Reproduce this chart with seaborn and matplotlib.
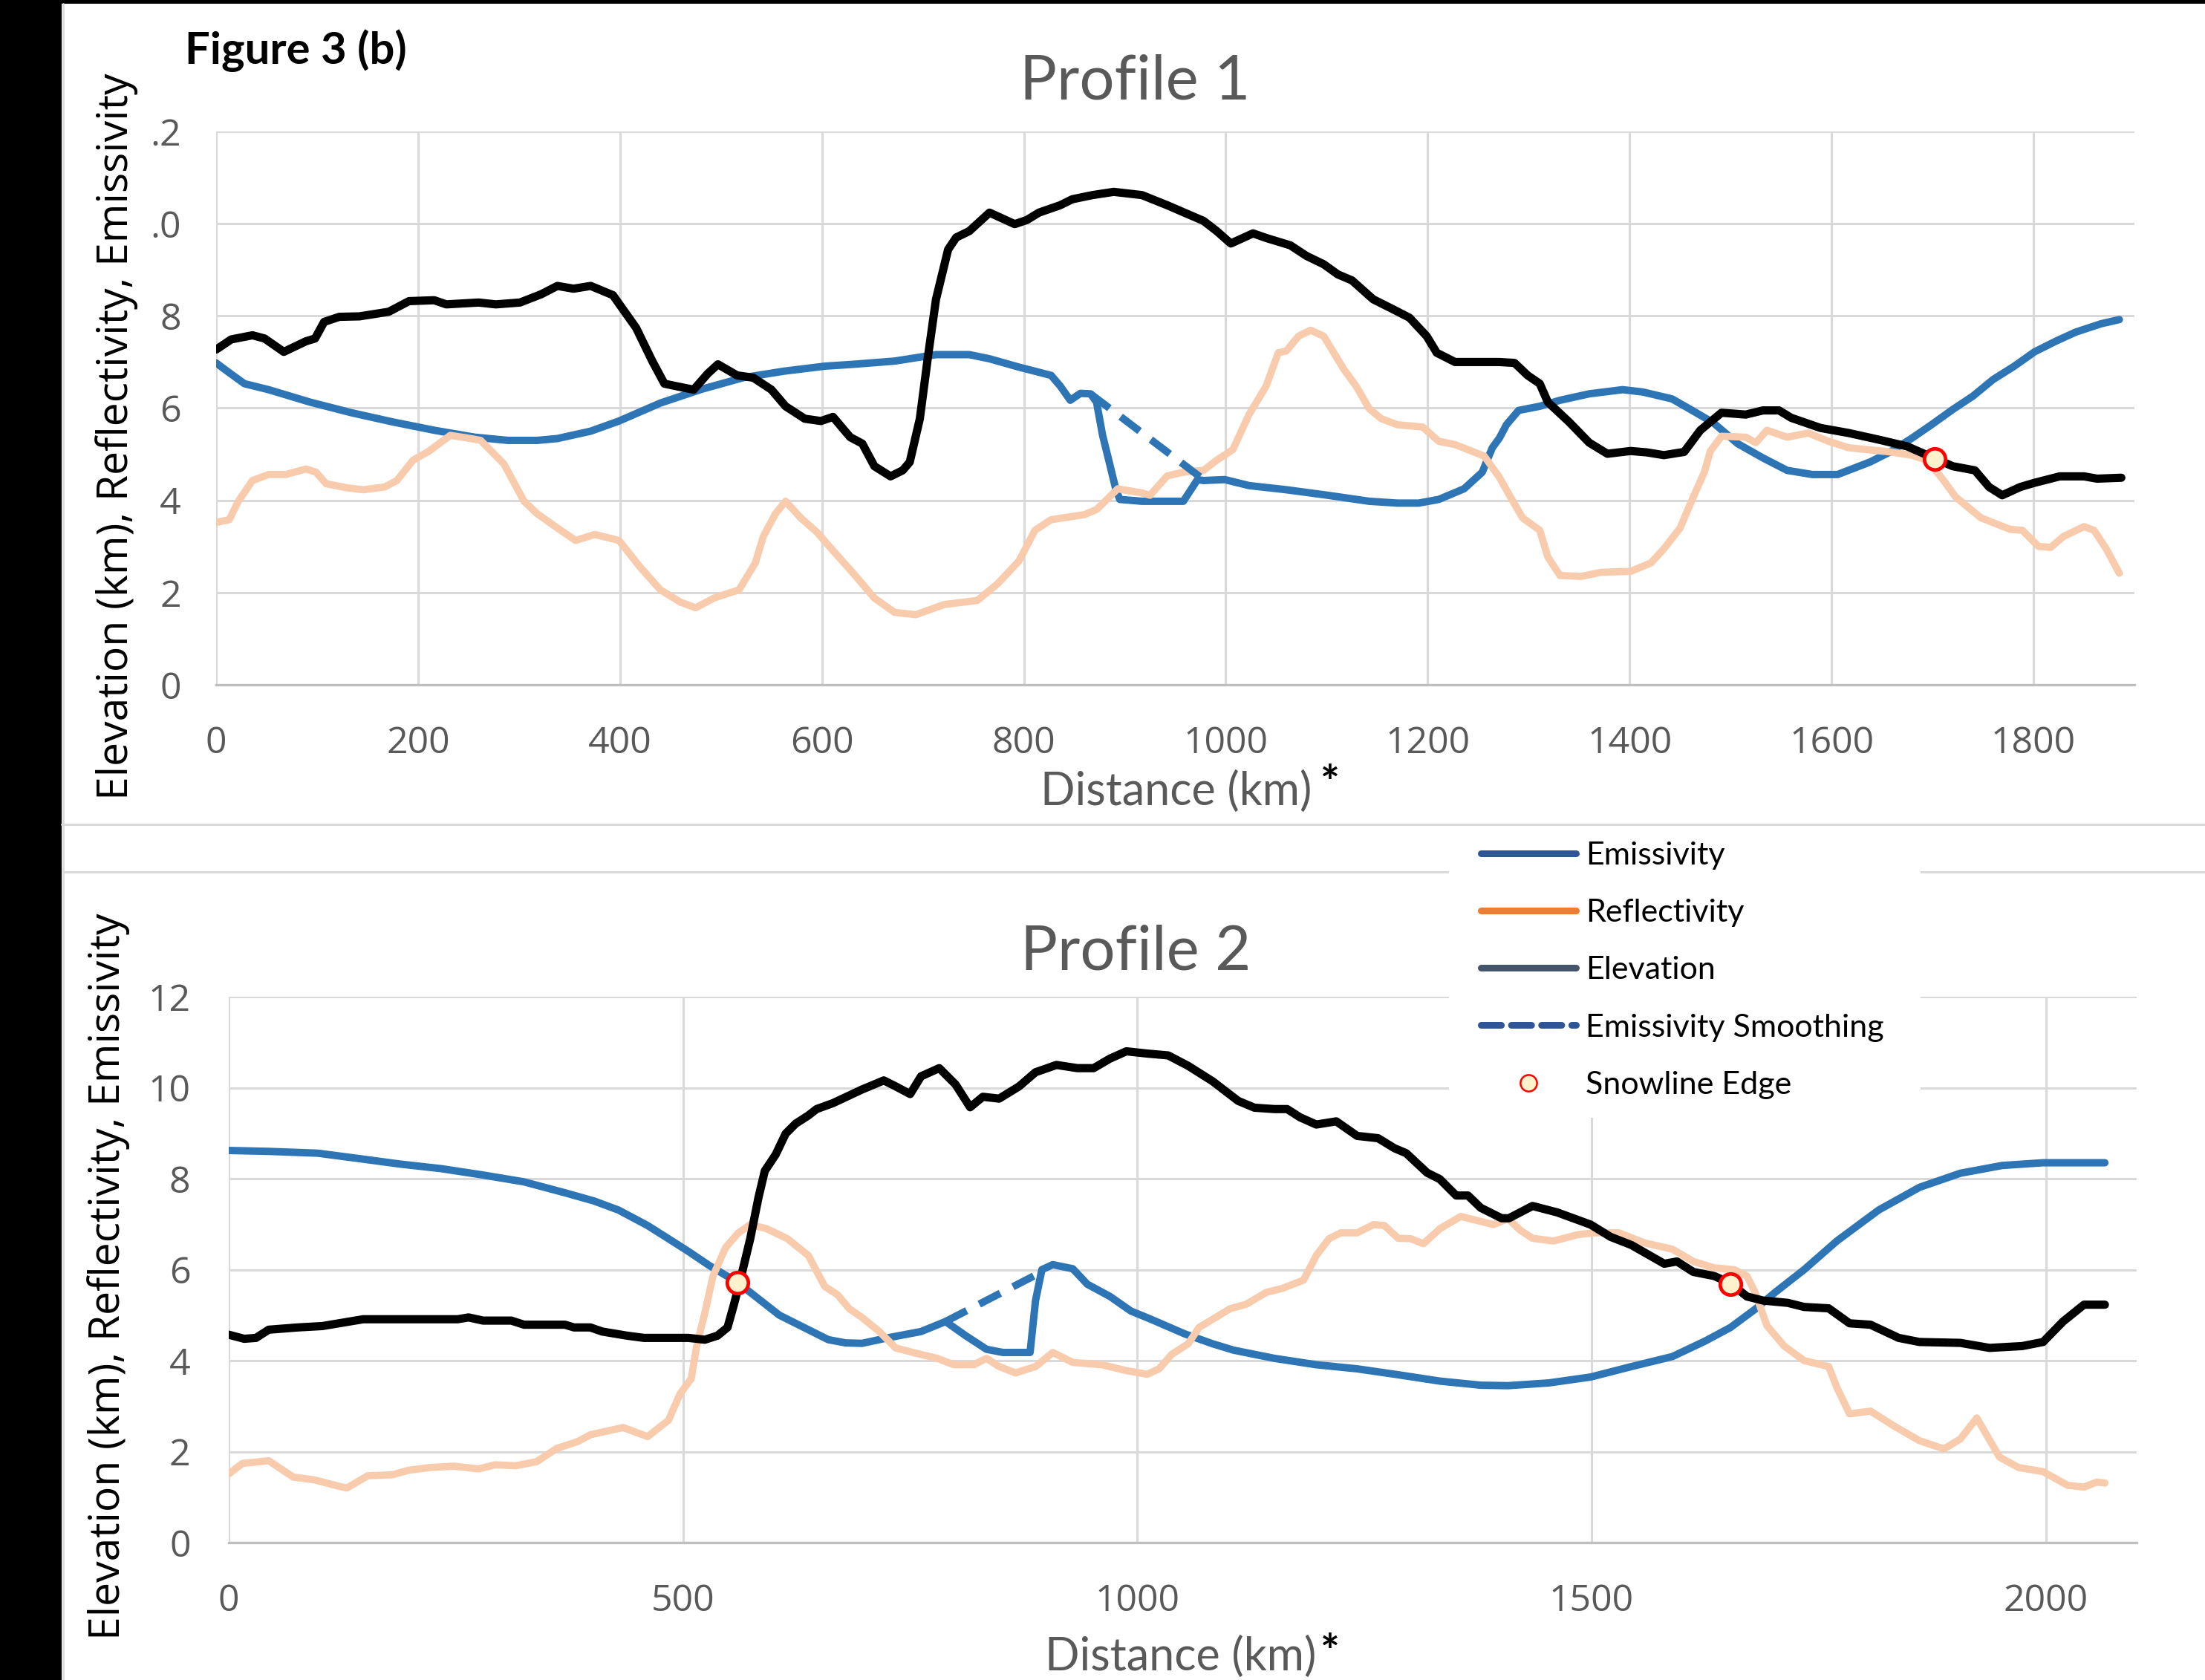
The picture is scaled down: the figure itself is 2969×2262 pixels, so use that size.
import matplotlib
matplotlib.use("Agg")
import matplotlib.pyplot as plt
import seaborn as sns
import pandas as pd
from matplotlib.lines import Line2D
from matplotlib.patches import Rectangle

# ---------------- DATA ----------------
# Profile 1
p1_elev_x = [0, 15, 36, 48, 67, 89, 98, 107, 122, 142, 171, 191, 216, 228, 260, 277, 301, 322, 338, 354, 371, 393,
             416, 432, 444, 457, 473, 487, 497, 516, 532, 550, 564, 583, 599, 611, 628, 640, 652, 668, 680, 687, 697,
             705, 713, 725, 733, 746, 766, 791, 803, 815, 836, 848, 868, 889, 917, 942, 978, 991, 1005, 1027, 1040,
             1064, 1080, 1097, 1111, 1125, 1146, 1166, 1182, 1199, 1209, 1227, 1252, 1271, 1286, 1299, 1311, 1319,
             1340, 1360, 1378, 1401, 1417, 1434, 1454, 1470, 1491, 1515, 1532, 1548, 1560, 1589, 1617, 1646, 1675,
             1701, 1720, 1742, 1756, 1769, 1787, 1801, 1826, 1850, 1863, 1887]
p1_elev_y = [7.27, 7.49, 7.58, 7.51, 7.22, 7.45, 7.51, 7.87, 7.98, 7.99, 8.09, 8.32, 8.34, 8.25, 8.29, 8.25, 8.29,
             8.47, 8.65, 8.59, 8.65, 8.45, 7.74, 7.02, 6.53, 6.47, 6.40, 6.75, 6.95, 6.71, 6.66, 6.40, 6.04, 5.77,
             5.72, 5.81, 5.37, 5.23, 4.74, 4.52, 4.65, 4.83, 5.77, 7.11, 8.36, 9.44, 9.70, 9.84, 10.24, 9.99, 10.08,
             10.24, 10.40, 10.53, 10.62, 10.69, 10.62, 10.40, 10.06, 9.84, 9.57, 9.79, 9.69, 9.53, 9.30, 9.12, 8.90,
             8.77, 8.36, 8.14, 7.96, 7.56, 7.20, 7.00, 7.00, 7.00, 6.98, 6.71, 6.53, 6.13, 5.70, 5.25, 5.01, 5.07,
             5.04, 4.98, 5.05, 5.52, 5.90, 5.86, 5.95, 5.95, 5.79, 5.57, 5.46, 5.32, 5.17, 4.92, 4.74, 4.65, 4.29,
             4.11, 4.29, 4.38, 4.52, 4.52, 4.47, 4.49]

p1_emis_x = [0, 11, 28, 52, 93, 134, 175, 216, 256, 289, 318, 338, 371, 399, 440, 481, 522, 562, 603, 631, 672, 713,
             746, 766, 795, 827, 836, 846, 856, 866, 872, 878, 884, 891, 895, 917, 958, 972, 978, 999, 1023, 1060,
             1101, 1142, 1170, 1191, 1211, 1236, 1254, 1264, 1271, 1278, 1290, 1311, 1331, 1360, 1393, 1413, 1442,
             1462, 1483, 1507, 1532, 1556, 1581, 1606, 1638, 1658, 1679, 1699, 1720, 1740, 1760, 1781, 1801, 1822,
             1842, 1867, 1885]
p1_emis_y = [6.98, 6.80, 6.53, 6.40, 6.13, 5.90, 5.70, 5.52, 5.37, 5.30, 5.30, 5.34, 5.50, 5.72, 6.11, 6.41, 6.66,
             6.80, 6.91, 6.95, 7.02, 7.16, 7.16, 7.07, 6.89, 6.71, 6.48, 6.17, 6.32, 6.31, 6.13, 5.41, 4.88, 4.25,
             4.02, 3.98, 3.98, 4.45, 4.43, 4.45, 4.32, 4.23, 4.11, 3.98, 3.94, 3.94, 4.02, 4.25, 4.61, 5.14, 5.35,
             5.64, 5.95, 6.04, 6.17, 6.31, 6.40, 6.35, 6.20, 5.95, 5.68, 5.23, 4.92, 4.65, 4.56, 4.56, 4.83, 5.05,
             5.34, 5.64, 5.97, 6.26, 6.62, 6.91, 7.22, 7.45, 7.65, 7.83, 7.92]

p1_smooth_x = [866, 978]
p1_smooth_y = [6.31, 4.45]

p1_refl_x = [0, 13, 22, 36, 52, 69, 89, 99, 109, 130, 146, 167, 179, 195, 211, 232, 252, 262, 285, 305, 318, 338,
             356, 375, 399, 420, 440, 460, 475, 493, 518, 534, 542, 554, 564, 579, 595, 611, 631, 652, 672, 693,
             721, 754, 774, 795, 811, 827, 860, 872, 893, 917, 925, 942, 958, 978, 991, 1007, 1023, 1040, 1052,
             1060, 1072, 1084, 1097, 1117, 1129, 1142, 1154, 1170, 1195, 1211, 1227, 1256, 1271, 1282, 1294, 1311,
             1319, 1331, 1352, 1372, 1401, 1421, 1434, 1450, 1462, 1474, 1480, 1491, 1515, 1525, 1536, 1556, 1577,
             1597, 1617, 1658, 1679, 1695, 1711, 1723, 1748, 1777, 1789, 1805, 1817, 1830, 1850, 1860, 1872, 1885]
p1_refl_y = [3.52, 3.58, 3.98, 4.43, 4.56, 4.56, 4.68, 4.61, 4.36, 4.27, 4.23, 4.29, 4.43, 4.87, 5.07, 5.41, 5.34,
             5.30, 4.79, 3.98, 3.71, 3.40, 3.13, 3.26, 3.13, 2.55, 2.06, 1.79, 1.67, 1.88, 2.06, 2.64, 3.22, 3.71,
             3.98, 3.62, 3.31, 2.91, 2.42, 1.88, 1.57, 1.52, 1.74, 1.83, 2.19, 2.68, 3.35, 3.58, 3.69, 3.80, 4.25,
             4.16, 4.11, 4.53, 4.61, 4.65, 4.87, 5.10, 5.86, 6.48, 7.20, 7.24, 7.56, 7.69, 7.56, 6.84, 6.48, 5.99,
             5.77, 5.64, 5.59, 5.28, 5.21, 4.96, 4.50, 4.07, 3.62, 3.35, 2.77, 2.37, 2.35, 2.44, 2.46, 2.64, 2.95,
             3.40, 4.02, 4.61, 5.07, 5.39, 5.37, 5.25, 5.52, 5.37, 5.46, 5.28, 5.14, 5.05, 4.98, 4.87, 4.43, 4.07,
             3.62, 3.37, 3.35, 3.00, 2.98, 3.22, 3.43, 3.35, 2.95, 2.42]

p1_snow_x = [1702]
p1_snow_y = [4.89]

# Profile 2
p2_elev_x = [0, 17, 30, 44, 76, 103, 121, 148, 189, 252, 264, 280, 311, 325, 370, 380, 398, 411, 438, 457, 506, 524,
             538, 549, 556, 563, 574, 583, 590, 602, 613, 624, 638, 647, 665, 697, 721, 734, 750, 762, 782, 800, 816,
             830, 848, 870, 888, 911, 934, 952, 970, 988, 1011, 1034, 1056, 1083, 1111, 1129, 1151, 1165, 1179,
             1197, 1219, 1242, 1265, 1283, 1296, 1319, 1333, 1351, 1364, 1378, 1401, 1409, 1435, 1462, 1499, 1521,
             1544, 1580, 1594, 1612, 1635, 1653, 1671, 1689, 1716, 1734, 1761, 1784, 1807, 1838, 1861, 1906, 1938,
             1974, 1997, 2019, 2042, 2065]
p2_elev_y = [4.57, 4.48, 4.50, 4.68, 4.73, 4.76, 4.82, 4.91, 4.91, 4.91, 4.95, 4.88, 4.88, 4.79, 4.79, 4.73, 4.73,
             4.64, 4.55, 4.50, 4.50, 4.46, 4.55, 4.73, 5.23, 5.77, 6.68, 7.58, 8.17, 8.53, 8.99, 9.21, 9.39, 9.53,
             9.66, 9.96, 10.16, 10.03, 9.86, 10.25, 10.43, 10.07, 9.57, 9.80, 9.76, 10.03, 10.34, 10.50, 10.43,
             10.43, 10.64, 10.80, 10.75, 10.71, 10.48, 10.14, 9.71, 9.56, 9.53, 9.53, 9.35, 9.19, 9.26, 8.94, 8.89,
             8.67, 8.56, 8.13, 7.99, 7.63, 7.63, 7.36, 7.13, 7.13, 7.40, 7.26, 6.99, 6.72, 6.54, 6.13, 6.18, 5.95,
             5.86, 5.70, 5.41, 5.32, 5.27, 5.18, 5.15, 4.82, 4.79, 4.50, 4.41, 4.39, 4.28, 4.32, 4.41, 4.86, 5.23,
             5.23]

p2_emis_x = [0, 44, 98, 144, 189, 234, 280, 325, 370, 402, 429, 461, 484, 506, 529, 560, 583, 606, 633, 660, 679, 697,
             725, 762, 789, 811, 834, 852, 882, 888, 895, 907, 929, 945, 970, 993, 1015, 1052, 1083, 1106, 1151, 1197,
             1242, 1287, 1333, 1378, 1408, 1453, 1499, 1544, 1589, 1625, 1653, 1680, 1702, 1734, 1770, 1816, 1861,
             1906, 1952, 1997, 2065]
p2_emis_y = [8.62, 8.60, 8.56, 8.44, 8.32, 8.22, 8.08, 7.93, 7.69, 7.51, 7.31, 6.97, 6.68, 6.40, 6.09, 5.72, 5.36,
             5.00, 4.73, 4.46, 4.39, 4.38, 4.50, 4.64, 4.86, 4.55, 4.25, 4.18, 4.18, 5.32, 6.00, 6.11, 6.02, 5.68,
             5.41, 5.09, 4.91, 4.59, 4.37, 4.23, 4.05, 3.91, 3.82, 3.69, 3.55, 3.46, 3.45, 3.51, 3.64, 3.87, 4.09,
             4.43, 4.73, 5.13, 5.50, 6.00, 6.63, 7.31, 7.81, 8.12, 8.29, 8.35, 8.35]

p2_smooth_x = [789, 886]
p2_smooth_y = [4.86, 5.86]

p2_refl_x = [0, 15, 30, 44, 71, 94, 121, 130, 153, 180, 198, 221, 248, 275, 293, 316, 339, 361, 384, 398, 434, 461,
             484, 497, 509, 515, 524, 533, 547, 561, 574, 592, 615, 638, 656, 670, 683, 697, 716, 734, 757, 780, 798,
             820, 834, 848, 866, 888, 907, 929, 961, 988, 1011, 1024, 1038, 1056, 1068, 1083, 1102, 1120, 1142, 1160,
             1183, 1197, 1211, 1224, 1242, 1260, 1272, 1287, 1301, 1315, 1333, 1356, 1374, 1392, 1408, 1422, 1435,
             1458, 1485, 1503, 1530, 1558, 1589, 1612, 1635, 1657, 1671, 1680, 1693, 1712, 1734, 1761, 1770, 1784,
             1807, 1834, 1861, 1888, 1906, 1924, 1949, 1970, 1997, 2024, 2042, 2056, 2065]
p2_refl_y = [1.51, 1.74, 1.77, 1.80, 1.44, 1.38, 1.24, 1.20, 1.47, 1.49, 1.59, 1.65, 1.68, 1.62, 1.71, 1.69, 1.78,
             2.07, 2.22, 2.37, 2.53, 2.33, 2.69, 3.28, 3.60, 4.32, 5.05, 5.86, 6.49, 6.81, 6.99, 6.90, 6.68, 6.31,
             5.63, 5.45, 5.14, 4.95, 4.64, 4.28, 4.16, 4.05, 3.91, 3.91, 4.05, 3.87, 3.73, 3.87, 4.18, 3.96, 3.91,
             3.78, 3.70, 3.82, 4.14, 4.37, 4.73, 4.91, 5.14, 5.24, 5.50, 5.59, 5.77, 6.31, 6.68, 6.81, 6.81, 6.99,
             6.97, 6.69, 6.68, 6.57, 6.90, 7.17, 7.08, 6.99, 7.12, 6.86, 6.69, 6.63, 6.77, 6.81, 6.81, 6.59, 6.45,
             6.18, 6.04, 6.00, 5.86, 5.50, 4.77, 4.32, 4.00, 3.87, 3.41, 2.83, 2.89, 2.55, 2.24, 2.06, 2.28, 2.74,
             1.88, 1.65, 1.56, 1.26, 1.22, 1.33, 1.31]

p2_snow_x = [560, 1653]
p2_snow_y = [5.72, 5.68]

# axis ticks / labels
yticks = [0, 2, 4, 6, 8, 10, 12]
p1_ytick_labels = ["0", "2", "4", "6", "8", ".0", ".2"]
p2_ytick_labels = ["0", "2", "4", "6", "8", "10", "12"]
p1_xticks = [0, 200, 400, 600, 800, 1000, 1200, 1400, 1600, 1800]
p2_xticks = [0, 500, 1000, 1500, 2000]
legend_labels = ["Emissivity", "Reflectivity", "Elevation", "Emissivity Smoothing", "Snowline Edge"]

# ---------------- STYLE ----------------
sns.set_theme(style="whitegrid")
plt.rcParams["font.family"] = ["Open Sans", "DejaVu Sans"]
CAL = ["Lato", "DejaVu Sans"]

C_EMIS = "#2E75B6"
C_REFL = "#F8CBAD"
C_ELEV = "#000000"
GRID = "#D9D9D9"
TICK = "#595959"

W, H = 2969, 2262
fig = plt.figure(figsize=(W / 100, H / 100), dpi=100)
fig.patch.set_facecolor("white")


def fx(px):
    return px / W


def fy(py):
    return 1 - py / H


ax1 = fig.add_axes([fx(291), fy(922), fx(2874) - fx(291), fy(177) - fy(922)])
ax2 = fig.add_axes([fx(308), fy(2077), fx(2877) - fx(308), fy(1342) - fy(2077)])


def style_axes(ax, xticks, xlim, ylabels, ypad):
    ax.set_facecolor("white")
    ax.set_xlim(*xlim)
    ax.set_ylim(0, 12)
    ax.set_xticks(xticks)
    ax.set_xticklabels([str(v) for v in xticks])
    ax.set_yticks(yticks)
    ax.set_yticklabels(ylabels)
    ax.grid(True, color=GRID, linewidth=2.2)
    ax.set_axisbelow(True)
    for s in ["top", "right", "left"]:
        ax.spines[s].set_visible(False)
    ax.spines["bottom"].set_color("#BFBFBF")
    ax.spines["bottom"].set_linewidth(2.4)
    ax.tick_params(axis="x", length=0, pad=39.5, labelsize=36, labelcolor=TICK)
    ax.tick_params(axis="y", length=0, pad=ypad, labelsize=36, labelcolor=TICK)
    ax.set_xlabel("")
    ax.set_ylabel("")


def line(ax, x, y, color, lw, **kw):
    sns.lineplot(x=x, y=y, ax=ax, color=color, linewidth=lw, estimator=None,
                 sort=False, legend=False, **kw)


def draw_profile(ax, ex, ey, rx, ry, lx, ly, sx, sy, px, py):
    line(ax, ex, ey, C_EMIS, 7.2, solid_capstyle="round", solid_joinstyle="round")
    line(ax, rx, ry, C_REFL, 7.0, solid_capstyle="round", solid_joinstyle="round")
    line(ax, lx, ly, C_ELEV, 8.0, solid_capstyle="round", solid_joinstyle="round")
    line(ax, sx, sy, C_EMIS, 7.2, linestyle=(0, (3.2, 1.9)), dash_capstyle="butt")
    sns.scatterplot(x=px, y=py, ax=ax, s=420, color="#FFF2CC", edgecolor="#FF0000",
                    linewidth=3.4, zorder=10, legend=False)


draw_profile(ax1, p1_emis_x, p1_emis_y, p1_refl_x, p1_refl_y, p1_elev_x, p1_elev_y,
             p1_smooth_x, p1_smooth_y, p1_snow_x, p1_snow_y)
draw_profile(ax2, p2_emis_x, p2_emis_y, p2_refl_x, p2_refl_y, p2_elev_x, p2_elev_y,
             p2_smooth_x, p2_smooth_y, p2_snow_x, p2_snow_y)

style_axes(ax1, p1_xticks, (0, 1900), p1_ytick_labels, 34)
style_axes(ax2, p2_xticks, (0, 2100), p2_ytick_labels, 37)

# ---------------- FRAME DECORATION ----------------
fig.add_artist(Rectangle((0, 0), fx(83), 1, transform=fig.transFigure,
                         facecolor="black", edgecolor="none", zorder=0.5))
fig.add_artist(Rectangle((0, fy(5)), 1, 5 / H, transform=fig.transFigure,
                         facecolor="black", edgecolor="none", zorder=0.5))
fig.add_artist(Line2D([fx(85), fx(85)], [0, fy(5)], transform=fig.transFigure,
                      color=GRID, lw=2, zorder=0.6))
fig.add_artist(Line2D([fx(83), 1], [fy(1110), fy(1110)], transform=fig.transFigure,
                      color=GRID, lw=2.2, zorder=2))
fig.add_artist(Line2D([fx(86), 1], [fy(1174), fy(1174)], transform=fig.transFigure,
                      color=GRID, lw=2.2, zorder=2))

# ---------------- TEXT ----------------
fig.text(fx(249), fy(86), "Figure 3 (b)", family=CAL, weight="bold", fontsize=43,
         ha="left", va="baseline", color="black")
fig.text(fx(1528), fy(134), "Profile 1", family=CAL, fontsize=60, ha="center",
         va="baseline", color=TICK)
fig.text(fx(1529), fy(1305), "Profile 2", family=CAL, fontsize=60, ha="center",
         va="baseline", color=TICK)
fig.text(fx(1584), fy(1084), "Distance (km)", family=CAL, fontsize=44, ha="center",
         va="baseline", color=TICK)
fig.text(fx(1590), fy(2249), "Distance (km)", family=CAL, fontsize=44, ha="center",
         va="baseline", color=TICK)
fig.text(fx(1791), fy(1075), "*", family=CAL, weight="bold", fontsize=44, ha="center",
         va="baseline", color="black")
fig.text(fx(1791), fy(2245), "*", family=CAL, weight="bold", fontsize=44, ha="center",
         va="baseline", color="black")
ylab = "Elevation (km), Reflectivity, Emissivity"
fig.text(fx(157), fy(588), ylab, rotation=90, fontsize=41, ha="center", va="center",
         color="black")
fig.text(fx(146), fy(1719), ylab, rotation=90, fontsize=41, ha="center", va="center",
         color="black")

# ---------------- LEGEND ----------------
fig.add_artist(Rectangle((fx(1951), fy(1505)), fx(2586) - fx(1951), fy(1128) - fy(1505),
                         transform=fig.transFigure, facecolor="white", edgecolor="none",
                         zorder=4))
handles = [
    Line2D([], [], color="#2F5597", lw=6.5, solid_capstyle="round"),
    Line2D([], [], color="#ED7D31", lw=6.5, solid_capstyle="round"),
    Line2D([], [], color="#44546A", lw=6.5, solid_capstyle="round"),
    Line2D([], [], color="#2F5597", lw=6.5, linestyle=(0, (3.0, 1.5)), dash_capstyle="round"),
    Line2D([], [], ls="none", marker="o", ms=16, mfc="#FFF2CC", mec="#FF0000", mew=1.8),
]
leg = fig.legend(handles, legend_labels, loc="upper left",
                 bbox_to_anchor=(fx(1994), fy(1133)), bbox_transform=fig.transFigure,
                 frameon=False, prop={"family": CAL, "size": 31}, handlelength=2.97,
                 handletextpad=0.31, labelspacing=0.91, borderpad=0, borderaxespad=0)
leg.set_zorder(5)
for t in leg.get_texts():
    t.set_color("black")

fig.savefig("out.png", dpi=100, facecolor="white")
